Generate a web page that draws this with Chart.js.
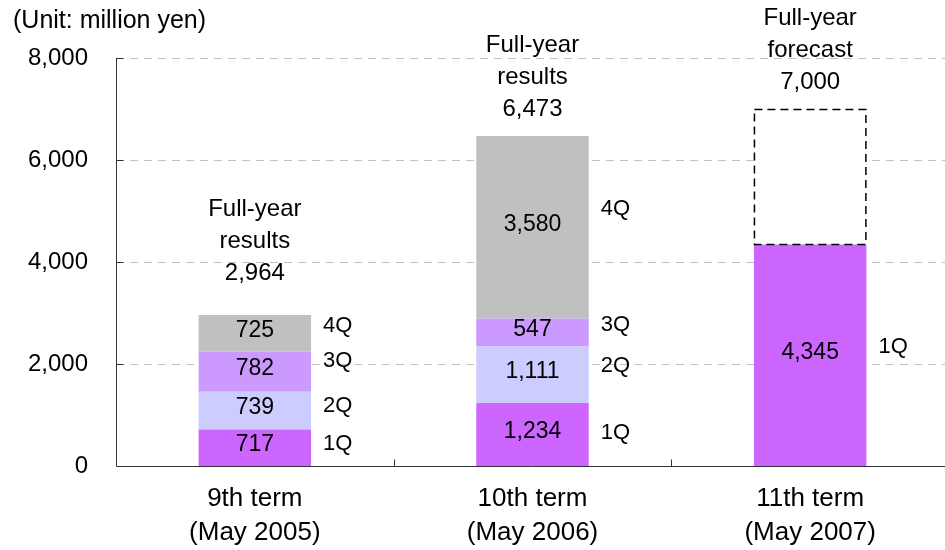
<!DOCTYPE html>
<html>
<head>
<meta charset="utf-8">
<script src="https://cdn.jsdelivr.net/npm/chart.js@4/dist/chart.umd.min.js"></script>
<style>
  html, body { margin: 0; padding: 0; background: #fff; overflow: hidden; }
  /* the plot runs a few pixels past the right edge of the frame */
  #wrap { width: 945px; height: 550px; overflow: hidden; }
  #c { display: block; }
</style>
</head>
<body>
<div id="wrap"><canvas id="c" width="949" height="550"></canvas></div>
<script>
// Net sales by quarter (million yen)
const categories = [['9th term', '(May 2005)'], ['10th term', '(May 2006)'], ['11th term', '(May 2007)']];
const q1 = [717, 1234, 4345];
const q2 = [739, 1111, null];
const q3 = [782, 547, null];
const q4 = [725, 3580, null];
const fullYear = [2964, 6473, 7000];
const fullYearCaptions = [['Full-year', 'results'], ['Full-year', 'results'], ['Full-year', 'forecast']];
const isForecast = [false, false, true];
const quarterNames = ['1Q', '2Q', '3Q', '4Q'];
const yTicks = [0, 2000, 4000, 6000, 8000];
const unitLabel = '(Unit: million yen)';

// Part of the forecast not yet booked: the dashed outline above 1Q
const forecastRemainder = fullYear.map((v, i) => isForecast[i] ? v - q1[i] : null);

const FONT = '"Liberation Sans", Arial, Helvetica, sans-serif';
const fmt = v => Number(v).toLocaleString('en-US');

// Text sizes and placement tweaks (pixels)
const SIZE_CAPTION = 24;
const SIZE_UNIT = 25;
const SIZE_VALUE = 23;
const SIZE_QUARTER = 22;
const SIZE_TICK = 24;
const SIZE_CATEGORY = 26;
const captionGap = [41, 27, 27];       // from bar top to centre of the total line
const captionLineStep = 32;
const valueNudge = -3;
const quarterNudge = [[-4, -5, -11, -7], [-2, -9, -8, -18], [-8]];

const annotate = {
  id: 'annotate',
  beforeDatasetsDraw(chart) {
    const { ctx, chartArea: { left, right }, scales: { y } } = chart;
    ctx.save();
    ctx.strokeStyle = '#c0c0c0';
    ctx.lineWidth = 1;
    ctx.setLineDash([8, 6]);
    yTicks.forEach(v => {
      if (v === 0) return;
      const py = Math.round(y.getPixelForValue(v)) + 0.5;
      ctx.beginPath();
      ctx.moveTo(left, py);
      ctx.lineTo(right, py);
      ctx.stroke();
    });
    ctx.restore();
  },
  afterDatasetsDraw(chart) {
    const { ctx, chartArea: { left, right, top, bottom }, scales: { x, y } } = chart;
    ctx.save();

    // dashed outline of the forecast remainder
    const fMeta = chart.getDatasetMeta(4);
    fMeta.data.forEach((el, i) => {
      if (forecastRemainder[i] == null) return;
      const p = el.getProps(['x', 'y', 'base', 'width'], true);
      ctx.setLineDash([8, 5]);
      ctx.strokeStyle = '#000';
      ctx.lineWidth = 1.5;
      ctx.strokeRect(p.x - p.width / 2 + 0.5, Math.round(p.y) + 0.5, p.width - 1, Math.round(p.base - p.y));
    });
    ctx.setLineDash([]);

    // axes
    ctx.strokeStyle = '#333';
    ctx.lineWidth = 1;
    const ax = Math.round(left) + 0.5, ay = Math.round(bottom) + 0.5;
    ctx.beginPath();
    ctx.moveTo(ax, top);
    ctx.lineTo(ax, ay);
    ctx.lineTo(right, ay);
    ctx.stroke();
    // inward y ticks
    yTicks.forEach(v => {
      if (v === 0) return;
      const py = Math.round(y.getPixelForValue(v)) + 0.5;
      ctx.beginPath();
      ctx.moveTo(ax, py);
      ctx.lineTo(ax + 7, py);
      ctx.stroke();
    });
    // x ticks at category boundaries
    const step = x.getPixelForValue(1) - x.getPixelForValue(0);
    for (let i = 1; i < categories.length; i++) {
      const bx = Math.round(x.getPixelForValue(i) - step / 2) + 0.5;
      ctx.beginPath();
      ctx.moveTo(bx, ay);
      ctx.lineTo(bx, ay - 7);
      ctx.stroke();
    }

    // values inside segments and quarter names beside them
    ctx.fillStyle = '#000';
    ctx.textBaseline = 'middle';
    const quarters = [q1, q2, q3, q4];
    quarters.forEach((series, di) => {
      const meta = chart.getDatasetMeta(di);
      meta.data.forEach((el, i) => {
        if (series[i] == null) return;
        const p = el.getProps(['x', 'y', 'base', 'width'], true);
        const cy = (p.y + p.base) / 2;
        ctx.font = SIZE_VALUE + 'px ' + FONT;
        ctx.textAlign = 'center';
        ctx.fillText(fmt(series[i]), p.x, cy + valueNudge);
        ctx.font = SIZE_QUARTER + 'px ' + FONT;
        ctx.textAlign = 'left';
        ctx.fillText(quarterNames[di], p.x + p.width / 2 + 12, cy + quarterNudge[i][di]);
      });
    });

    // full-year totals above each bar
    ctx.font = SIZE_CAPTION + 'px ' + FONT;
    ctx.textAlign = 'center';
    fullYear.forEach((v, i) => {
      const cx = x.getPixelForValue(i);
      const barTop = y.getPixelForValue(v);
      const lines = fullYearCaptions[i].concat([fmt(v)]);
      const lastY = barTop - captionGap[i];
      lines.forEach((t, k) => {
        ctx.fillText(t, cx, lastY - (lines.length - 1 - k) * captionLineStep);
      });
    });

    // unit note
    ctx.font = SIZE_UNIT + 'px ' + FONT;
    ctx.textAlign = 'left';
    ctx.fillText(unitLabel, 13, 21);
    ctx.restore();
  }
};

new Chart(document.getElementById('c'), {
  type: 'bar',
  data: {
    labels: categories,
    datasets: [
      { label: '1Q', data: q1, backgroundColor: '#CC66FF' },
      { label: '2Q', data: q2, backgroundColor: '#CCCCFF' },
      { label: '3Q', data: q3, backgroundColor: '#CC99FF' },
      { label: '4Q', data: q4, backgroundColor: '#C0C0C0' },
      { label: 'Forecast', data: forecastRemainder, backgroundColor: '#FFFFFF' }
    ]
  },
  options: {
    responsive: false,
    animation: false,
    events: [],
    layout: { padding: { top: 58, right: 0, bottom: 0, left: 0 } },
    datasets: { bar: { categoryPercentage: 1, barPercentage: 0.405, borderWidth: 0 } },
    plugins: { legend: { display: false }, tooltip: { enabled: false }, title: { display: false } },
    scales: {
      x: {
        stacked: true,
        grid: { display: false },
        border: { display: false },
        ticks: { color: '#000', font: { family: FONT, size: SIZE_CATEGORY, lineHeight: 34 / SIZE_CATEGORY }, padding: 8, maxRotation: 0, autoSkip: false },
        afterFit(scale) { scale.height = 84; }
      },
      y: {
        stacked: true,
        min: 0,
        max: 8000,
        grid: { display: false },
        border: { display: false },
        ticks: { stepSize: 2000, color: '#000', font: { family: FONT, size: SIZE_TICK }, padding: 20, callback: v => fmt(v) },
        afterFit(scale) { scale.width = 116; }
      }
    }
  },
  plugins: [annotate]
});
</script>
</body>
</html>
